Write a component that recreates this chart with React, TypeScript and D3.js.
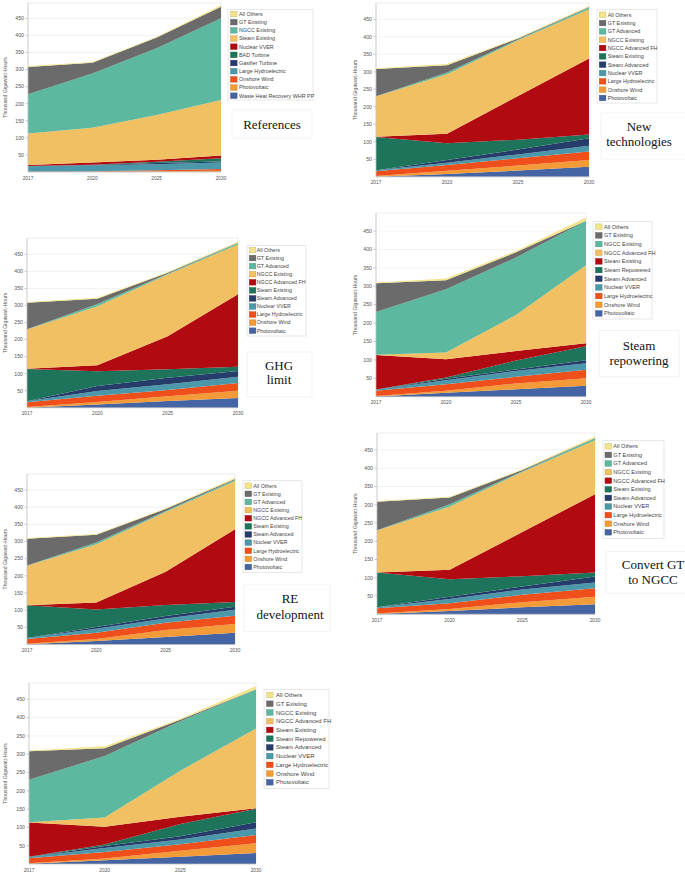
import React from 'react';
import * as d3 from 'd3';

const years = ['2017', '2020', '2025', '2030'];
const yTicks = [50, 100, 150, 200, 250, 300, 350, 400, 450];
const yLabel = 'Thousand Gigawatt-Hours';

// colours by stacking position (bottom -> top)
const palette = ['#4464A4', '#F29B38', '#EE4F1B', '#4B98AA', '#263D6C', '#1D745B', '#B10A11', '#F1C062', '#5CB89E', '#6B6B6B', '#F3E48C'];

// ---- References ----
const refNames = ['Waste Heat Recovery WHR PP', 'Photovoltaic', 'Onshore Wind', 'Large Hydroelectric', 'Gasifier Turbine', 'BAD Turbine', 'Nuclear VVER', 'Steam Existing', 'NGCC Existing', 'GT Existing', 'All Others'];
const refValues = [
  [0.5, 0.5, 0.5, 1],
  [0.5, 1, 1.5, 3],
  [0.5, 1, 3, 5],
  [15, 17, 18, 19],
  [0.5, 1, 3, 3],
  [0.5, 1, 4, 9],
  [3, 6, 6, 8],
  [92, 102, 131, 163],
  [115, 159, 195, 239],
  [80, 31, 32, 34],
  [2.5, 2.5, 2, 4],
];

// common series list for New technologies / GHG / RE / Convert
const techNames = ['Photovoltaic', 'Onshore Wind', 'Large Hydroelectric', 'Nuclear VVER', 'Steam Advanced', 'Steam Existing', 'NGCC Advanced FH', 'NGCC Existing', 'GT Advanced', 'GT Existing', 'All Others'];
const repowerNames = ['Photovoltaic', 'Onshore Wind', 'Large Hydroelectric', 'Nuclear VVER', 'Steam Advanced', 'Steam Repowered', 'Steam Existing', 'NGCC Advanced FH', 'NGCC Existing', 'GT Existing', 'All Others'];

// ---- New technologies ----
const newTechValues = [
  [0.5, 8, 18, 29],
  [1.5, 9, 14, 19],
  [14, 17, 21, 24],
  [3, 6, 11, 17],
  [0, 8, 14, 21],
  [95, 48, 28, 11],
  [0.5, 27, 125, 217],
  [115, 170, 159, 141],
  [0.5, 5, 2, 5],
  [78, 21, 3, 1],
  [2, 3, 2.5, 3],
];

// ---- GHG limit ----
const ghgValues = [
  [0.5, 10, 20, 29],
  [1.5, 7, 14, 21],
  [14, 18, 18, 23],
  [3, 14, 17, 18],
  [0, 15, 19, 17],
  [95, 43, 25, 12],
  [0.5, 18, 97, 213],
  [115, 173, 181, 146],
  [0.5, 6, 2, 4],
  [78, 16, 3, 1],
  [2, 2.5, 2, 3],
];

// ---- Steam repowering ----
const steamValues = [
  [0.5, 11, 20, 30],
  [1.5, 5, 16, 20],
  [14, 18, 18, 23],
  [3, 11, 16, 18],
  [0, 4, 4, 8],
  [0.5, 3, 24, 38],
  [94, 50, 26, 8],
  [0.5, 18, 98, 212],
  [116, 172, 156, 120],
  [78, 24, 14, 1],
  [2, 5, 4, 9],
];

// ---- RE development ----
const reValues = [
  [0.5, 10, 22, 34],
  [1.5, 6, 20, 26],
  [14, 18, 21, 24],
  [3, 12, 13, 17],
  [0, 5, 7, 9],
  [95, 51, 32, 14],
  [0.5, 20, 97, 212],
  [115, 170, 174, 140],
  [0.5, 5, 3, 4],
  [78, 23, 6, 2],
  [2, 2, 2, 4],
];

// ---- Convert GT to NGCC ----
const convertValues = [
  [0.5, 9, 19, 27],
  [1.5, 5, 14, 21],
  [14, 16, 20, 23],
  [3, 12, 15, 16],
  [0, 6, 8, 16],
  [95, 48, 28, 11],
  [0.5, 26, 121, 215],
  [115, 173, 165, 148],
  [0.5, 6, 2, 5],
  [78, 19, 3, 1],
  [2, 2, 2, 4],
];

// ---- Combined (last panel) ----
const combinedValues = [
  [0.5, 10, 20, 30],
  [1.5, 5, 16, 27],
  [14, 18, 18, 22],
  [3, 11, 13, 18],
  [0, 5, 9, 17],
  [0.5, 4, 33, 37],
  [94, 49, 20, 1],
  [0.5, 25, 126, 218],
  [116, 168, 135, 107],
  [78, 21, 4, 0.5],
  [2, 6, 3, 9],
];

const titleRefs = ['References'];
const titleNew = ['New', 'technologies'];
const titleGhg = ['GHG', 'limit'];
const titleSteam = ['Steam', 'repowering'];
const titleRe = ['RE', 'development'];
const titleConvert = ['Convert GT', 'to NGCC'];

// layout (positions only)
const layouts = [
  { x0: 28, x1: 221, y0: 172, y450: 18.3, top: 3, lg: { x: 228, y: 9.7, w: 85, h: 90.3, first: 14, step: 8.17, sx: 230.5, tx: 239, fs: 5.4 }, tb: { x: 232, y: 110, w: 80, h: 28, cx: 272, ys: [124] } },
  { x0: 376, x1: 589, y0: 176.8, y450: 19.3, top: 3, lg: { x: 597, y: 9.3, w: 60, h: 93.7, first: 14.7, step: 8.33, sx: 599.3, tx: 607.7, fs: 5.4 }, tb: { x: 601, y: 113, w: 90, h: 46, cx: 639, ys: [126, 141.7] } },
  { x0: 27, x1: 238, y0: 407.8, y450: 254.3, top: 238, lg: { x: 247, y: 245.7, w: 59, h: 90.3, first: 250, step: 8.07, sx: 249.3, tx: 256.7, fs: 5.3 }, tb: { x: 247, y: 352, w: 65, h: 45, cx: 279, ys: [365, 379.3] } },
  { x0: 376, x1: 586, y0: 396.7, y450: 231, top: 213, lg: { x: 593, y: 221.7, w: 59, h: 97.3, first: 226.7, step: 8.67, sx: 595.5, tx: 604, fs: 5.6 }, tb: { x: 599, y: 330.7, w: 80, h: 46, cx: 639, ys: [345, 360] } },
  { x0: 27, x1: 235, y0: 644.5, y450: 490, top: 474, lg: { x: 243, y: 480.7, w: 59, h: 91.6, first: 485.7, step: 8.13, sx: 245, tx: 253.3, fs: 5.3 }, tb: { x: 244, y: 585, w: 86, h: 46.7, cx: 290, ys: [598.3, 614] } },
  { x0: 377, x1: 595, y0: 614.2, y450: 450, top: 433, lg: { x: 603, y: 440.7, w: 61, h: 97.6, first: 446.3, step: 8.6, sx: 605, tx: 613.3, fs: 5.6 }, tb: { x: 606, y: 551.7, w: 85, h: 41.6, cx: 653, ys: [564, 579.3] } },
  { x0: 29, x1: 256, y0: 864, y450: 699.3, top: 683, lg: { x: 264, y: 689.3, w: 65, h: 99, first: 695, step: 8.73, sx: 266.5, tx: 276, fs: 6.0 }, tb: null },
];

const panels = [
  { names: refNames, values: refValues, title: titleRefs },
  { names: techNames, values: newTechValues, title: titleNew },
  { names: techNames, values: ghgValues, title: titleGhg },
  { names: repowerNames, values: steamValues, title: titleSteam },
  { names: techNames, values: reValues, title: titleRe },
  { names: techNames, values: convertValues, title: titleConvert },
  { names: repowerNames, values: combinedValues, title: null },
];

const sans = '"Liberation Sans", Arial, sans-serif';
const serif = '"Liberation Serif", "Times New Roman", serif';

function Panel({ names, values, title, L }: any) {
  const x = d3.scalePoint<string>().domain(years).range([L.x0, L.x1]).padding(0);
  const y = d3.scaleLinear().domain([0, 450]).range([L.y0, L.y450]);
  const table = years.map((yr, i) => {
    const row: any = { year: yr };
    names.forEach((n: string, j: number) => (row[n] = values[j][i]));
    return row;
  });
  const series = d3.stack<any>().keys(names)(table);
  const area = d3
    .area<any>()
    .x((d) => x(d.data.year) as number)
    .y0((d) => y(d[0]))
    .y1((d) => y(d[1]));
  const midY = (L.top + L.y0) / 2;
  const lg = L.lg;
  const legendItems = names.map((n: string, i: number) => ({ n, c: palette[i] })).reverse();
  return (
    <g>
      <rect x={L.x0} y={L.top} width={L.x1 - L.x0} height={L.y0 - L.top} fill="#fff" stroke="#e4e4e4" strokeWidth={0.7} />
      {yTicks.map((t) => (
        <line key={t} x1={L.x0} x2={L.x1} y1={y(t)} y2={y(t)} stroke="#ececec" strokeWidth={0.7} />
      ))}
      {series.map((s: any, i: number) => (
        <path key={i} d={area(s) as string} fill={palette[i]} />
      ))}
      <line x1={L.x0} x2={L.x0} y1={L.top} y2={L.y0} stroke="#c4c4c4" strokeWidth={0.7} />
      <line x1={L.x0} x2={L.x1} y1={L.y0} y2={L.y0} stroke="#c4c4c4" strokeWidth={0.7} />
      {yTicks.map((t) => (
        <g key={t}>
          <line x1={L.x0 - 2.5} x2={L.x0} y1={y(t)} y2={y(t)} stroke="#aaa" strokeWidth={0.6} />
          <text x={L.x0 - 4} y={y(t)} dy="0.35em" textAnchor="end" fontSize={5.2} fill="#555" fontFamily={sans}>
            {t}
          </text>
        </g>
      ))}
      {years.map((yr) => (
        <text key={yr} x={x(yr)} y={L.y0 + 7.5} textAnchor="middle" fontSize={4.8} fill="#555" fontFamily={sans}>
          {yr}
        </text>
      ))}
      <text transform={`translate(${L.x0 < 300 ? 5 : 355},${midY}) rotate(-90)`} textAnchor="middle" dy="0.35em" fontSize={5.2} fill="#555" fontFamily={sans}>
        {yLabel}
      </text>
      <rect x={lg.x} y={lg.y} width={lg.w} height={lg.h} fill="#fff" stroke="#dcdcdc" strokeWidth={0.7} />
      {legendItems.map((it: any, i: number) => {
        const cy = lg.first + i * lg.step;
        return (
          <g key={it.n}>
            <rect x={lg.sx} y={cy - 2.8} width={6.6} height={5.6} fill={it.c} stroke={d3.color(it.c)!.darker(0.6).toString()} strokeWidth={0.4} />
            <text x={lg.tx} y={cy} dy="0.35em" fontSize={lg.fs} fill="#444" fontFamily={sans}>
              {it.n}
            </text>
          </g>
        );
      })}
      {title && L.tb && (
        <g>
          <rect x={L.tb.x} y={L.tb.y} width={L.tb.w} height={L.tb.h} fill="#fff" stroke="#efefef" strokeWidth={0.8} />
          {title.map((t: string, i: number) => (
            <text key={t} x={L.tb.cx} y={L.tb.ys[i]} dy="0.35em" textAnchor="middle" fontSize={13} fill="#111" fontFamily={serif}>
              {t}
            </text>
          ))}
        </g>
      )}
    </g>
  );
}

export default function App() {
  return (
    <svg width={685} height={875} style={{ position: 'absolute', left: 0, top: 0, background: '#fff' }}>
      <rect x={0} y={0} width={685} height={875} fill="#fff" />
      {panels.map((p, i) => (
        <Panel key={i} names={p.names} values={p.values} title={p.title} L={layouts[i]} />
      ))}
    </svg>
  );
}
